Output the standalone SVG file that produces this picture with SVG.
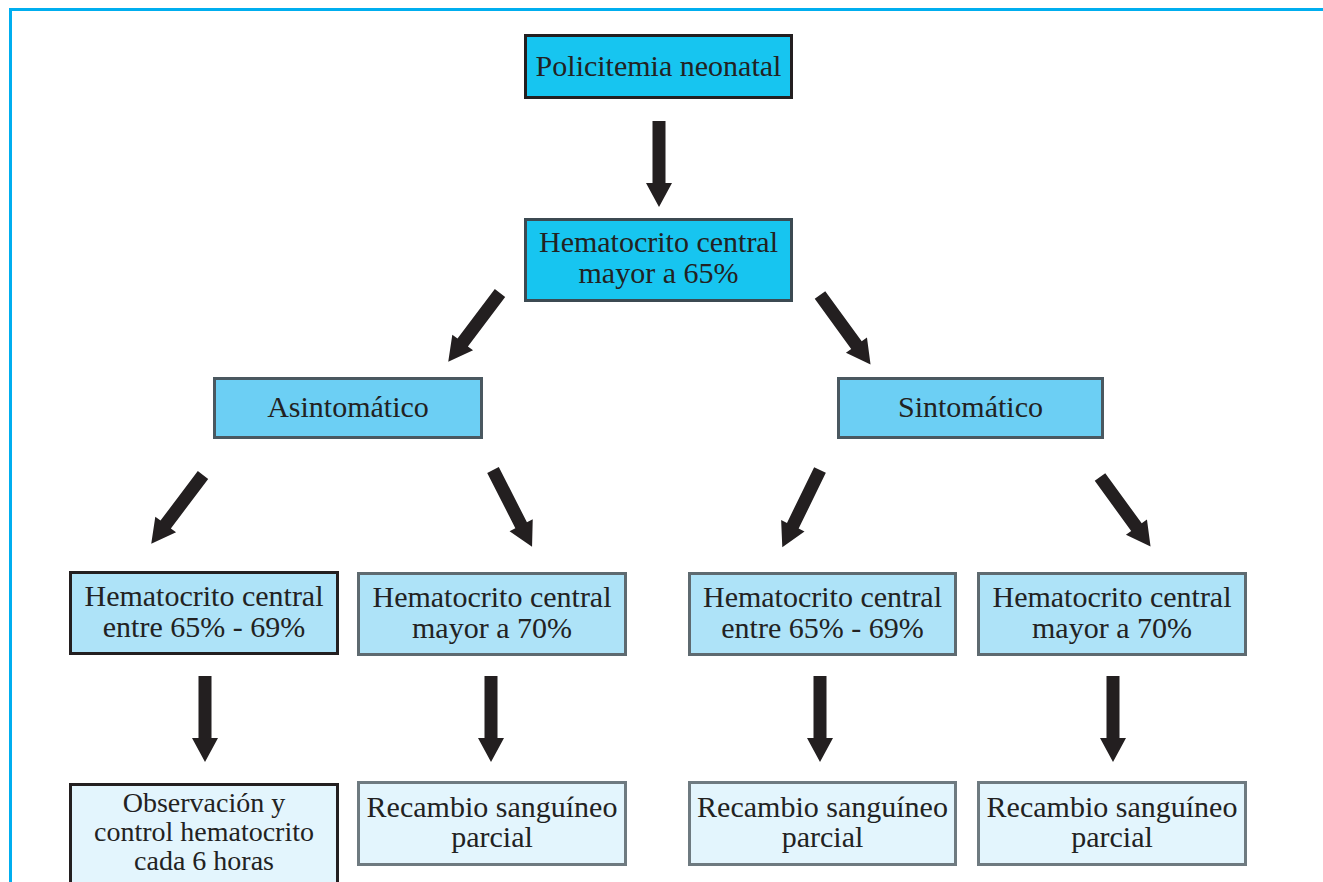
<svg xmlns="http://www.w3.org/2000/svg" width="1323" height="882" viewBox="0 0 1323 882">
<defs>
<style>
.t{font-family:"Liberation Serif","Times New Roman",serif;font-size:30px;fill:#222;text-anchor:middle}
.s{font-size:28px}
.b0{fill:#17C5F0;stroke:#231f20;stroke-width:3}
.b1{fill:#17C5F0;stroke:#3c4a52;stroke-width:3}
.b2{fill:#6CCFF4;stroke:#4a5860;stroke-width:3}
.b3d{fill:#AEE3F8;stroke:#231f20;stroke-width:3}
.b3{fill:#AEE3F8;stroke:#5e6a70;stroke-width:3}
.b4d{fill:#E3F5FD;stroke:#231f20;stroke-width:3}
.b4{fill:#E3F5FD;stroke:#6e7a80;stroke-width:3}
.ar{fill:#231f20}
</style>
<path id="arr" d="M-6.5,0 H6.5 V62 H13 L0,86 L-13,62 H-6.5 Z"/>
</defs>
<rect width="1323" height="882" fill="#fff"/>
<path d="M10.5,882 V9.5 H1323" fill="none" stroke="#00AEEF" stroke-width="3"/>

<g id="connectors" class="ar">
<use href="#arr" transform="translate(659,121)"/>
<use href="#arr" transform="translate(500,293) rotate(37)"/>
<use href="#arr" transform="translate(820,295) rotate(-36)"/>
<use href="#arr" transform="translate(203,475) rotate(37)"/>
<use href="#arr" transform="translate(493,470) rotate(-27)"/>
<use href="#arr" transform="translate(820,470) rotate(26)"/>
<use href="#arr" transform="translate(1100,477) rotate(-36)"/>
<use href="#arr" transform="translate(205,676)"/>
<use href="#arr" transform="translate(491,676)"/>
<use href="#arr" transform="translate(820,676)"/>
<use href="#arr" transform="translate(1113,676)"/>
</g>

<g id="n1"><rect class="b0" x="525.5" y="35.5" width="266" height="62"/><text class="t" x="658.5" y="76">Policitemia neonatal</text></g>
<g id="n2"><rect class="b1" x="525.5" y="219.5" width="266" height="81"/><text class="t" x="658.5" y="252">Hematocrito central</text><text class="t" x="658.5" y="283">mayor a 65%</text></g>
<g id="n3"><rect class="b2" x="214.5" y="378.5" width="267" height="59"/><text class="t" x="348" y="417">Asintomático</text></g>
<g id="n4"><rect class="b2" x="838.5" y="378.5" width="264" height="59"/><text class="t" x="970.5" y="417">Sintomático</text></g>
<g id="n5"><rect class="b3d" x="70.5" y="572.5" width="267" height="81"/><text class="t" x="204" y="606">Hematocrito central</text><text class="t" x="204" y="637">entre 65% - 69%</text></g>
<g id="n6"><rect class="b3" x="358.5" y="573.5" width="267" height="81"/><text class="t" x="492" y="607">Hematocrito central</text><text class="t" x="492" y="638">mayor a 70%</text></g>
<g id="n7"><rect class="b3" x="689.5" y="573.5" width="266" height="81"/><text class="t" x="822.5" y="607">Hematocrito central</text><text class="t" x="822.5" y="638">entre 65% - 69%</text></g>
<g id="n8"><rect class="b3" x="978.5" y="573.5" width="267" height="81"/><text class="t" x="1112" y="607">Hematocrito central</text><text class="t" x="1112" y="638">mayor a 70%</text></g>
<g id="n9"><rect class="b4d" x="70.5" y="784.5" width="267" height="100"/><text class="t s" x="204" y="812">Observación y</text><text class="t s" x="204" y="841">control hematocrito</text><text class="t s" x="204" y="870">cada 6 horas</text></g>
<g id="n10"><rect class="b4" x="358.5" y="782.5" width="267" height="82"/><text class="t" x="492" y="817">Recambio sanguíneo</text><text class="t" x="492" y="847">parcial</text></g>
<g id="n11"><rect class="b4" x="689.5" y="782.5" width="266" height="82"/><text class="t" x="822.5" y="817">Recambio sanguíneo</text><text class="t" x="822.5" y="847">parcial</text></g>
<g id="n12"><rect class="b4" x="978.5" y="782.5" width="267" height="82"/><text class="t" x="1112" y="817">Recambio sanguíneo</text><text class="t" x="1112" y="847">parcial</text></g>
</svg>
